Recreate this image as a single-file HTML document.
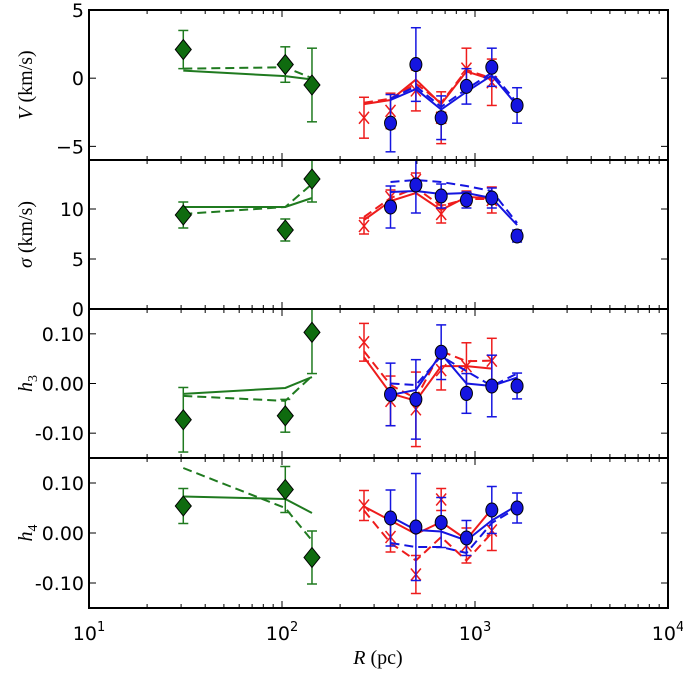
<!DOCTYPE html>
<html><head><meta charset="utf-8"><style>
body{margin:0;background:#fff}
svg text{font-family:"DejaVu Sans","Liberation Sans",sans-serif}
svg text.serif{font-family:"Liberation Serif","DejaVu Serif",serif}
</style></head><body>
<svg id="chart" width="683" height="669" xmlns="http://www.w3.org/2000/svg"></svg>
<script>
const greenR=[30.8,104,143];
const redR=[266,365,494,668,903,1222];
const blueR=[365,494,668,903,1222,1652];
// V panel
const gV=[2.1,1.0,-0.5], gVe=[1.4,1.3,2.7], gVs=[0.55,0.15,-0.1], gVd=[0.7,0.8,0.0];
const rV=[-2.9,-2.4,-0.9,-2.9,0.7,-0.3], rVe=[1.5,1.3,1.5,1.9,1.5,1.7], rVs=[-1.9,-1.6,-0.1,-1.9,0.5,-0.1], rVd=[-1.8,-1.5,-0.4,-1.8,0.6,0.0];
const bV=[-3.3,1.0,-2.9,-0.6,0.8,-2.0], bVe=[2.1,2.7,1.6,1.3,1.4,1.3], bVs=[-1.6,-0.8,-2.3,-1.0,0.2,-2.0], bVd=[-1.5,-0.6,-2.1,-0.8,0.4,-1.8];
// sigma panel
const gS=[9.4,7.9,13.0], gSe=[1.3,1.1,2.3], gSs=[10.2,10.2,11.1], gSd=[9.5,10.2,12.5];
const rS=[8.3,11.2,12.9,9.5,11.1,10.9], rSe=[0.8,0.7,0.7,0.9,0.7,1.3], rSs=[8.9,10.8,11.6,9.9,11.2,11.1], rSd=[9.2,11.1,12.1,10.3,11.0,11.0];
const bS=[10.2,12.4,11.3,10.9,11.1,7.3], bSe=[2.1,2.8,1.2,0.8,1.0,0.6], bSs=[11.7,11.8,11.5,11.6,11.1,8.4], bSd=[12.7,12.9,12.7,12.3,11.8,8.6];
// h3 panel
const gH3=[-0.073,-0.065,0.103], gH3e=[0.065,0.033,0.083], gH3s=[-0.021,-0.009,0.013], gH3d=[-0.025,-0.035,0.015];
const rH3=[0.083,-0.035,-0.052,0.027,0.035,0.046], rH3e=[0.038,0.05,0.075,0.04,0.047,0.045], rH3s=[0.053,-0.02,-0.035,0.035,0.035,0.03], rH3d=[0.065,-0.003,-0.03,0.065,0.045,0.046];
const bH3=[-0.022,-0.032,0.063,-0.02,-0.005,-0.005], bH3e=[0.063,0.08,0.055,0.04,0.062,0.026], bH3s=[-0.023,-0.013,0.06,0.0,-0.005,0.012], bH3d=[0.0,-0.003,0.055,0.025,-0.005,0.02];
// h4 panel
const gH4=[0.054,0.087,-0.049], gH4e=[0.035,0.046,0.053], gH4s=[0.073,0.068,0.04], gH4d=[0.13,0.05,-0.015];
const rH4=[0.055,-0.008,-0.083,0.067,-0.025,0.005], rH4e=[0.03,0.03,0.038,0.022,0.035,0.04], rH4s=[0.053,0.025,-0.002,0.022,-0.013,0.048], rH4d=[0.045,-0.02,-0.055,-0.008,-0.055,0.0];
const bH4=[0.03,0.012,0.021,-0.01,0.046,0.05], bH4e=[0.056,0.107,0.05,0.035,0.047,0.03], bH4s=[0.033,0.006,0.003,-0.015,0.025,0.055], bH4d=[-0.02,-0.028,-0.028,-0.04,0.02,0.05];
const xTickLabels=["1","2","3","4"];

const svg=document.getElementById('chart');
const NS="http://www.w3.org/2000/svg";
const L=89,R=668;
function X(r){return L+(Math.log10(r)-1)/3*(R-L);}
function mk(tag,at,parent){const e=document.createElementNS(NS,tag);for(const k in at)e.setAttribute(k,at[k]);(parent||svg).appendChild(e);return e;}
const GC="#1f7a1f",RC="#ee1c1c",BC="#1515e0";

const panels=[
 {top:10,bot:160,min:-6,max:5,ticks:[5,0,-5],lab:["5","0","\u22125"],name:"velocity",
  g:[gV,gVe,gVs,gVd],r:[rV,rVe,rVs,rVd],b:[bV,bVe,bVs,bVd],title:"V",unit:" (km/s)"},
 {top:160,bot:309,min:0,max:14.9,ticks:[10,5,0],lab:["10","5","0"],name:"dispersion",
  g:[gS,gSe,gSs,gSd],r:[rS,rSe,rSs,rSd],b:[bS,bSe,bSs,bSd],title:"\u03c3",unit:" (km/s)"},
 {top:309,bot:458,min:-0.15,max:0.15,ticks:[0.1,0,-0.1],lab:["0.10","0.00","-0.10"],name:"h3",
  g:[gH3,gH3e,gH3s,gH3d],r:[rH3,rH3e,rH3s,rH3d],b:[bH3,bH3e,bH3s,bH3d],title:"h",sub:"3"},
 {top:458,bot:608,min:-0.15,max:0.15,ticks:[0.1,0,-0.1],lab:["0.10","0.00","-0.10"],name:"h4",
  g:[gH4,gH4e,gH4s,gH4d],r:[rH4,rH4e,rH4s,rH4d],b:[bH4,bH4e,bH4s,bH4d],title:"h",sub:"4"}
];

panels.forEach((p,pi)=>{
 const Y=v=>p.bot-(v-p.min)/(p.max-p.min)*(p.bot-p.top);
 const g=mk('g',{});
 
 
 const cp='clip'+pi;
 const cpe=mk('clipPath',{id:cp},g);mk('rect',{x:L,y:p.top,width:R-L,height:p.bot-p.top},cpe);
 for(let d=1;d<4;d++)for(let m=1;m<=9;m++){
  const xx=X(Math.pow(10,d)*m);const len=m===1?7:4;
  if(m===1&&d===1)continue;
  mk('line',{x1:xx,x2:xx,y1:p.bot,y2:p.bot-len,stroke:'#000','stroke-width':1},g);
  mk('line',{x1:xx,x2:xx,y1:p.top,y2:p.top+len,stroke:'#000','stroke-width':1},g);
 }
 p.ticks.forEach((t,i)=>{
  const yy=Y(t);
  mk('line',{x1:L,x2:L+7,y1:yy,y2:yy,stroke:'#000'},g);
  mk('line',{x1:R,x2:R-7,y1:yy,y2:yy,stroke:'#000'},g);
  const tx=mk('text',{x:L-5,y:yy+7,'text-anchor':'end','font-size':19},g);tx.textContent=p.lab[i];
  
  
 });
 const pl=mk('g',{'clip-path':`url(#${cp})`},g);
 function series(xs,d,color,marker,nm){
  const [vals,errs,sol,das]=d;
  const sg=mk('g',{},pl);
  
  
  mk('polyline',{points:xs.map((x,i)=>X(x)+','+Y(sol[i])).join(' '),fill:'none',stroke:color,'stroke-width':2},sg);
  mk('polyline',{points:xs.map((x,i)=>X(x)+','+Y(das[i])).join(' '),fill:'none',stroke:color,'stroke-width':2,'stroke-dasharray':'9,5'},sg);
  xs.forEach((x,i)=>{
   const cx=X(x),y1=Y(vals[i]-errs[i]),y2=Y(vals[i]+errs[i]),cy=Y(vals[i]);
   mk('line',{x1:cx,x2:cx,y1:y1,y2:y2,stroke:color,'stroke-width':1.5},sg);
   mk('line',{x1:cx-5,x2:cx+5,y1:y1,y2:y1,stroke:color,'stroke-width':1.5},sg);
   mk('line',{x1:cx-5,x2:cx+5,y1:y2,y2:y2,stroke:color,'stroke-width':1.5},sg);
   let m;
   if(marker==='d')m=mk('polygon',{points:`${cx},${cy-10} ${cx+8},${cy} ${cx},${cy+10} ${cx-8},${cy}`,fill:'#0f6b0f',stroke:'#000','stroke-width':1},sg);
   else if(marker==='o')m=mk('ellipse',{cx:cx,cy:cy,rx:6,ry:7,fill:BC,stroke:'#000','stroke-width':1},sg);
   else{m=mk('path',{d:`M${cx-5},${cy-6}L${cx+5},${cy+6}M${cx-5},${cy+6}L${cx+5},${cy-6}`,stroke:color,'stroke-width':1.5},sg);}
   
   
  });
 }
 series(greenR,p.g,GC,'d','green');
 series(redR,p.r,RC,'x','red');
 series(blueR,p.b,BC,'o','blue');
 mk('rect',{x:L,y:p.top,width:R-L,height:p.bot-p.top,fill:'none',stroke:'#000','stroke-width':2},g);
 const cy=(p.top+p.bot)/2;
 const t=mk('text',{transform:`translate(32,${cy}) rotate(-90)`,'text-anchor':'middle','font-size':20,'class':'serif'},g);
 
 
 const ts=mk('tspan',{'font-style':'italic'},t);ts.textContent=p.title;
 if(p.sub){const s2=mk('tspan',{'font-size':14,dy:5},t);s2.textContent=p.sub;}
 else{const s2=mk('tspan',{},t);s2.textContent=p.unit;}
});
xTickLabels.forEach((e,i)=>{
 const xx=X(Math.pow(10,i+1));
 const t=mk('text',{x:xx,y:640,'text-anchor':'middle','font-size':19});
 
 
 t.textContent='10';
 const s=mk('tspan',{'font-size':13,dy:-9},t);s.textContent=e;
});
const xt=mk('text',{x:378,y:664,'text-anchor':'middle','font-size':20,'class':'serif'});


const xi=mk('tspan',{'font-style':'italic'},xt);xi.textContent='R';
const xu=mk('tspan',{},xt);xu.textContent=' (pc)';
</script>
</body></html>
